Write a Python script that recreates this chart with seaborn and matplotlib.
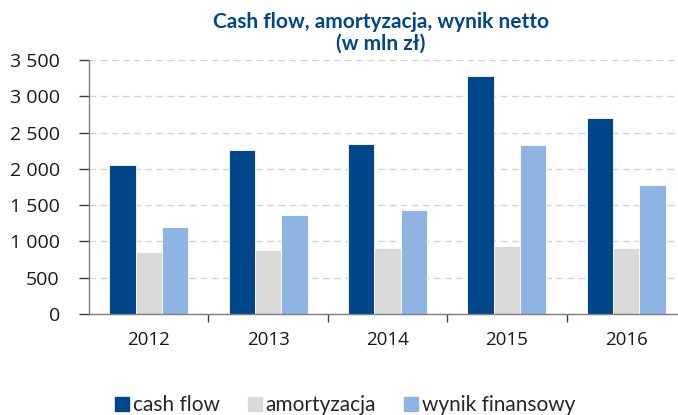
import pandas as pd
import matplotlib.pyplot as plt
import seaborn as sns
from matplotlib.ticker import FuncFormatter, FixedLocator

# --- dane (mln zł) ---
lata = ['2012', '2013', '2014', '2015', '2016']
cash_flow = [2060, 2255, 2340, 3285, 2705]
amortyzacja = [855, 885, 910, 942, 910]
wynik_finansowy = [1195, 1368, 1428, 2335, 1780]

serie = ['cash flow', 'amortyzacja', 'wynik finansowy']
kolory = ['#00468b', '#d9d9d9', '#8eb4e3']

df = pd.DataFrame({
    'rok': lata * 3,
    'seria': [s for s in serie for _ in lata],
    'wartosc': cash_flow + amortyzacja + wynik_finansowy,
})

sns.set_style('white')
plt.rcParams['font.family'] = ['Open Sans', 'DejaVu Sans']

fig = plt.figure(figsize=(6.78, 4.15), dpi=100)
ax = fig.add_axes([89 / 678, 1 - 314 / 415, 597 / 678, 254 / 415])

sns.barplot(data=df, x='rok', y='wartosc', hue='seria', palette=kolory,
            width=0.66, edgecolor='white', linewidth=0.6, saturation=1,
            legend=False, ax=ax)

ax.set_xlim(-0.5, 4.5)
ax.set_ylim(0, 3500)
ax.set_yticks(range(0, 3501, 500))
ax.yaxis.set_major_formatter(FuncFormatter(lambda v, p: f'{int(v):,}'.replace(',', ' ')))
ax.yaxis.grid(True, linestyle=(0, (5, 3)), color='#d4d4d4', linewidth=1)
ax.set_axisbelow(True)

# --- osie ---
for s in ['top', 'right']:
    ax.spines[s].set_visible(False)
for s in ['left', 'bottom']:
    ax.spines[s].set_color('#7f7f7f')
    ax.spines[s].set_linewidth(1)
ax.tick_params(axis='y', length=7, width=1, color='#404040', direction='out',
               labelsize=14, labelcolor='#1a1a1a', pad=14, left=True)
ax.tick_params(axis='x', which='major', length=0, labelsize=13.5,
               labelcolor='#1a1a1a', pad=12)
ax.xaxis.set_minor_locator(FixedLocator([0.5, 1.5, 2.5, 3.5]))
ax.tick_params(axis='x', which='minor', length=6, width=1, color='#404040',
               direction='out', bottom=True)
ax.set_xlabel('')
ax.set_ylabel('')

# --- tytul ---
fig.text(381 / 678, 1 - 33 / 415, 'Cash flow, amortyzacja, wynik netto\n(w mln zł)',
         ha='center', va='center', fontsize=15, fontweight='bold', color='#00468b',
         family=['Lato', 'DejaVu Sans'], linespacing=1.1)

# --- legenda ---
uchwyty = [plt.Rectangle((0, 0), 1, 1, color=k) for k in kolory]
fig.legend(uchwyty, serie, loc='center', bbox_to_anchor=(345.5 / 678, 1 - 405 / 415),
           ncol=3, frameon=False, handlelength=0.65, handleheight=0.65,
           handletextpad=0.2, columnspacing=1.35,
           prop={'family': ['Lato', 'DejaVu Sans'], 'size': 15})

fig.savefig('out.png', dpi=100)
